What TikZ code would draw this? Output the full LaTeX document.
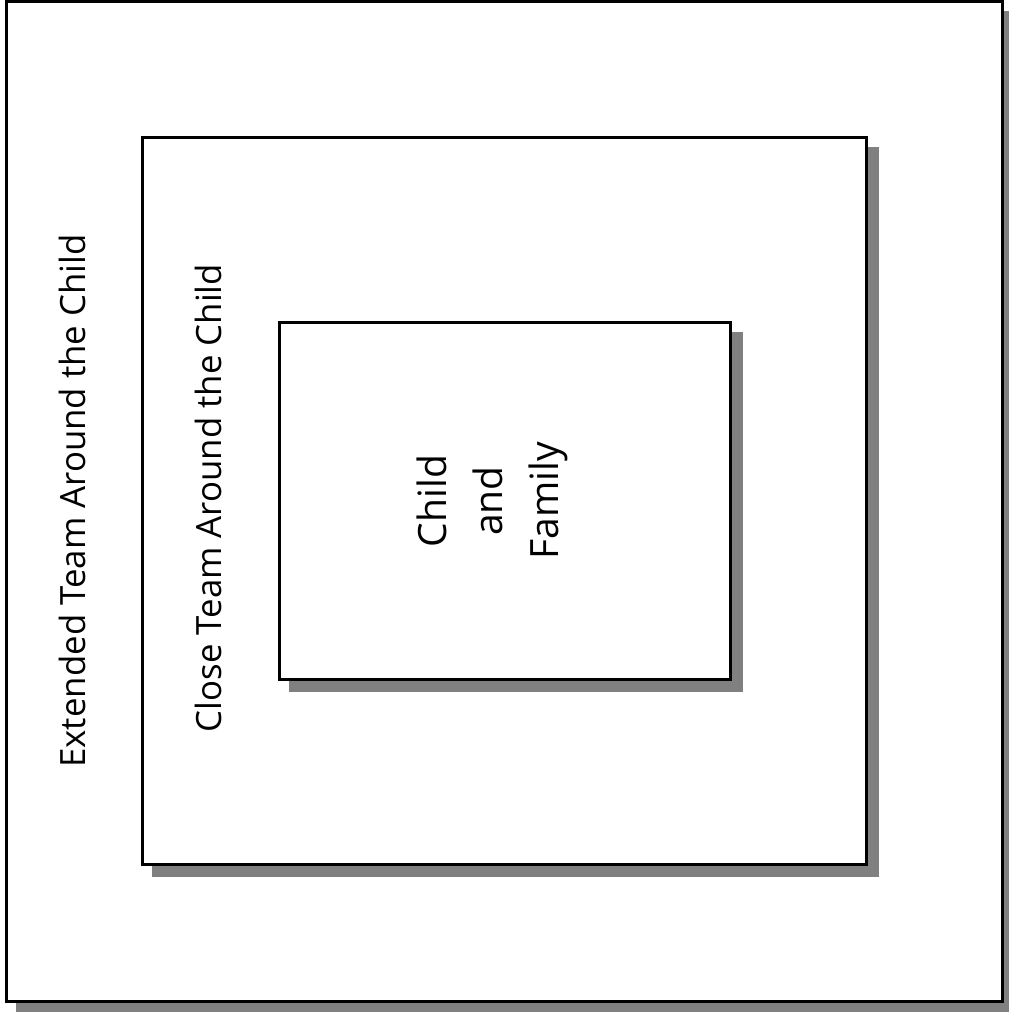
\documentclass[tikz,border=0pt]{standalone}
\usepackage{fontspec}
\setmainfont{Open Sans}
\definecolor{shadowgray}{RGB}{128,128,128}
\begin{document}
\begin{tikzpicture}[x=1pt,y=-1pt,
  panel/.style={draw=black, line width=3pt, fill=white, rectangle, inner sep=0pt, outer sep=0pt},
  shade/.style={fill=shadowgray},
  lbl/.style={rotate=90, font=\fontsize{34.8}{40}\selectfont, inner sep=0pt},
  core/.style={rotate=90, font=\fontsize{39}{56}\selectfont, inner sep=0pt, align=center}]
\useasboundingbox (0,0) rectangle (1009,1012);
% outer
\fill[shade] (16,11) rectangle (1015,1014);
\node[panel, minimum width=996pt, minimum height=1000pt] (outer) at (504.5,501.5) {};
% middle
\fill[shade] (152,147) rectangle (879,877);
\node[panel, minimum width=724pt, minimum height=727pt] (middle) at (504.5,501) {};
% inner
\fill[shade] (289,332) rectangle (743,692);
\node[panel, minimum width=451pt, minimum height=357pt] (inner) at (505,501) {};
% labels
\node[lbl] (extlbl) at (72,501) {Extended Team Around the Child};
\node[lbl] (closelbl) at (208,498) {Close Team Around the Child};
\node[core] (corelbl) at (492,501) {Child\\and\\Family};
\end{tikzpicture}
\end{document}
